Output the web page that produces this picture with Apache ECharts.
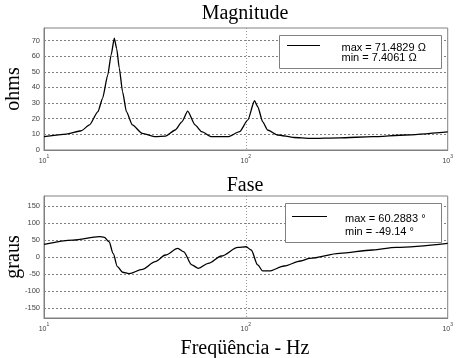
<!DOCTYPE html>
<html>
<head>
<meta charset="utf-8">
<script src="https://cdn.jsdelivr.net/npm/echarts@6/dist/echarts.min.js"></script>
<style>
html,body{margin:0;padding:0;background:#fff;}
#c{width:456px;height:358px;}
</style>
</head>
<body>
<div id="c"></div>
<script>
// ---- data ----
var magFreq = [10, 12.9, 15.3, 16.8, 18.5, 19.5, 20.7, 21.5, 22.3, 22.9, 23.6, 24.5, 25.6, 27.4, 30.7, 35.7, 40, 44.7, 48.2, 51.5, 56, 60.4, 67.6, 81.6, 93.1, 102.3, 110.3, 114.5, 121.2, 128.2, 143.5, 173.3, 207.5, 290.8, 423.6, 617.6, 1000];
var magVals = [8.5, 10.2, 12.3, 16, 24.5, 33, 48, 60.8, 71.48, 65, 52.3, 37.3, 24.5, 16, 10.6, 8.5, 8.9, 12.8, 18, 24.8, 16, 11.7, 8.5, 8.5, 11.7, 19.2, 31.5, 27.7, 18, 12.8, 9.6, 8, 7.41, 7.8, 8.5, 9.6, 11.6];

var phaseFreq = [10, 13.9, 18.8, 19.9, 21, 22, 23.1, 24.5, 26.4, 30.7, 35.6, 40, 46, 49.1, 54, 58.2, 65.1, 75.7, 91.4, 100.3, 106.2, 114.5, 121.2, 130.7, 154.8, 186.7, 207.5, 290.8, 423.6, 555, 1000];
var phaseVals = [37.3, 50, 60.28, 58, 45, 10.9, -28.5, -45, -49.14, -36.3, -13.7, 5.9, 25.5, 15.7, -23.5, -33.3, -18.6, 2.9, 28.5, 30.3, 20.6, -23.5, -41.2, -41.2, -26.5, -11.8, -3.9, 10.8, 20.6, 28.5, 40.3];

var magTicks = [0, 10, 20, 30, 40, 50, 60, 70];
var phaseTicks = [-150, -100, -50, 0, 50, 100, 150];
var xTicks = [10, 100, 1000];

var titles = ['Magnitude', 'Fase'];
var yNames = ['ohms', 'graus'];
var xName = 'Freqüência - Hz';
var legendMag = ['max = 71.4829 Ω', 'min = 7.4061 Ω'];
var legendPhase = ['max = 60.2883 °', 'min = -49.14 °'];

// ---- chart ----
var chart = echarts.init(document.getElementById('c'), null, {renderer: 'canvas'});
var gray = '#808080';
var labelColor = '#444';
var serif = '"Liberation Serif", "Times New Roman", serif';
var sans = '"Liberation Sans", Arial, sans-serif';

function zip(a, b) { return a.map(function (v, i) { return [v, b[i]]; }); }

function xAxisCfg(gi) {
  return {
    type: 'log', logBase: 10, gridIndex: gi, min: 10, max: 1000,
    axisLine: {show: true, onZero: false, lineStyle: {color: gray, width: 1}},
    axisTick: {show: false},
    minorTick: {show: false},
    splitLine: {show: true, lineStyle: {color: '#999', type: [1, 2], width: 1}},
    axisLabel: {
      customValues: xTicks,
      margin: 4,
      formatter: function (v) { return '{b|10}{s|' + Math.round(Math.log10(v)) + '}'; },
      rich: {
        b: {fontSize: 7, fontFamily: sans, color: labelColor, lineHeight: 11, verticalAlign: 'bottom'},
        s: {fontSize: 5, fontFamily: sans, color: labelColor, lineHeight: 11, verticalAlign: 'top'}
      }
    }
  };
}
function yAxisCfg(gi, mn, mx, ticks) {
  return {
    type: 'value', gridIndex: gi, min: mn, max: mx,
    axisLine: {show: true, onZero: false, lineStyle: {color: gray, width: 1}},
    axisTick: {show: false},
    splitLine: {show: false},
    axisLabel: {customValues: ticks, fontSize: 7.5, fontFamily: sans, color: labelColor, margin: 4}
  };
}
function gridLines(ticks, mn) {
  return {
    silent: true, symbol: ['none', 'none'], animation: false,
    label: {show: false},
    lineStyle: {color: gray, type: [2, 2], width: 1},
    emphasis: {disabled: true},
    data: ticks.filter(function (v) { return v > mn; }).map(function (v) { return {yAxis: v}; })
  };
}

var option = {
  animation: false,
  backgroundColor: '#fff',
  grid: [
    {left: 44, top: 28, width: 407, height: 122, show: true, borderColor: gray, borderWidth: 1, backgroundColor: '#fff'},
    {left: 44, top: 196, width: 407, height: 122, show: true, borderColor: gray, borderWidth: 1, backgroundColor: '#fff'}
  ],
  xAxis: [xAxisCfg(0), xAxisCfg(1)],
  yAxis: [yAxisCfg(0, 0, 78, magTicks), yAxisCfg(1, -180, 180, phaseTicks)],
  series: [
    {
      type: 'line', xAxisIndex: 0, yAxisIndex: 0, data: zip(magFreq, magVals),
      showSymbol: false, smooth: 0.2, smoothMonotone: 'x',
      lineStyle: {color: '#000', width: 1.3}, z: 5,
      markLine: gridLines(magTicks, 0)
    },
    {
      type: 'line', xAxisIndex: 1, yAxisIndex: 1, data: zip(phaseFreq, phaseVals),
      showSymbol: false, smooth: 0.3, smoothMonotone: 'x',
      lineStyle: {color: '#000', width: 1.3}, z: 5,
      markLine: gridLines(phaseTicks, -180)
    }
  ],
  graphic: [
    {type: 'text', x: 245, y: 14, style: {text: titles[0], font: '20px ' + serif, fill: '#000', align: 'center', verticalAlign: 'middle'}},
    {type: 'text', x: 245, y: 186, style: {text: titles[1], font: '20px ' + serif, fill: '#000', align: 'center', verticalAlign: 'middle'}},
    {type: 'text', x: 245, y: 348.5, style: {text: xName, font: '20px ' + serif, fill: '#000', align: 'center', verticalAlign: 'middle'}},
    {type: 'text', x: 14, y: 89, rotation: Math.PI / 2, style: {text: yNames[0], font: '20px ' + serif, fill: '#000', align: 'center', verticalAlign: 'middle'}},
    {type: 'text', x: 14, y: 257, rotation: Math.PI / 2, style: {text: yNames[1], font: '20px ' + serif, fill: '#000', align: 'center', verticalAlign: 'middle'}},
    // legend top
    {type: 'rect', z: 100, shape: {x: 279.5, y: 35.5, width: 162, height: 33}, style: {fill: '#fff', stroke: gray, lineWidth: 1}},
    {type: 'line', z: 101, shape: {x1: 287, y1: 45.5, x2: 320, y2: 45.5}, style: {stroke: '#000', lineWidth: 1.2}},
    {type: 'text', z: 101, x: 341.5, y: 47.7, style: {text: legendMag[0], font: '11px ' + sans, fill: '#000', align: 'left', verticalAlign: 'middle'}},
    {type: 'text', z: 101, x: 341.5, y: 58.3, style: {text: legendMag[1], font: '11px ' + sans, fill: '#000', align: 'left', verticalAlign: 'middle'}},
    // legend bottom
    {type: 'rect', z: 100, shape: {x: 285.5, y: 203.5, width: 156, height: 39}, style: {fill: '#fff', stroke: gray, lineWidth: 1}},
    {type: 'line', z: 101, shape: {x1: 292, y1: 216.5, x2: 327, y2: 216.5}, style: {stroke: '#000', lineWidth: 1.2}},
    {type: 'text', z: 101, x: 345, y: 219.3, style: {text: legendPhase[0], font: '11px ' + sans, fill: '#000', align: 'left', verticalAlign: 'middle'}},
    {type: 'text', z: 101, x: 345, y: 231.7, style: {text: legendPhase[1], font: '11px ' + sans, fill: '#000', align: 'left', verticalAlign: 'middle'}}
  ]
};
chart.setOption(option);
</script>
</body>
</html>
